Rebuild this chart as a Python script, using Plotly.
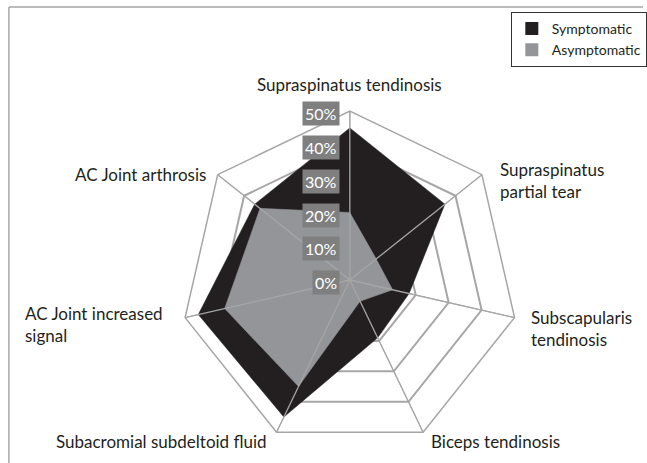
import math
import plotly.graph_objects as go

categories = ["Supraspinatus tendinosis", "Supraspinatus partial tear", "Subscapularis tendinosis",
              "Biceps tendinosis", "Subacromial subdeltoid fluid", "AC Joint increased signal",
              "AC Joint arthrosis"]
category_labels = ["Supraspinatus tendinosis", "Supraspinatus<br>partial tear", "Subscapularis<br>tendinosis",
                   "Biceps tendinosis", "Subacromial subdeltoid fluid", "AC Joint increased<br>signal",
                   "AC Joint arthrosis"]
symptomatic = [45, 36, 18, 19, 45, 46, 36]
asymptomatic = [20, 10, 13, 7, 35, 38, 34]
tick_values = [0, 10, 20, 30, 40, 50]
tick_labels = ["0%", "10%", "20%", "30%", "40%", "50%"]
r_max = 50

W, H = 647, 463
cx_px, cy_px, R_px = 352, 280, 170
dom_x = [(cx_px - R_px) / W, (cx_px + R_px) / W]
dom_y = [(H - cy_px - R_px) / H, (H - cy_px + R_px) / H]

FONT = "Lato, 'Open Sans', sans-serif"
GRID = "#a6a6a6"
BLACK = "#231f20"
GREY = "#939598"

# label placement style around each outer vertex: xanchor, yanchor, xshift, yshift, align
label_style = [
    ("center", "bottom", 0, 13, "center"),
    ("left", "middle", 16, -6, "left"),
    ("left", "middle", 14, -11, "left"),
    ("left", "middle", 6, -8, "left"),
    ("right", "middle", -8, -8, "right"),
    ("right", "middle", -20, -7, "left"),
    ("right", "middle", -10, 0, "right"),
]

fig = go.Figure()
fig.add_trace(go.Scatterpolar(
    r=symptomatic + [symptomatic[0]], theta=categories + [categories[0]],
    name="Symptomatic", mode="lines", fill="toself", showlegend=False,
    fillcolor=BLACK, line=dict(color=BLACK, width=0.5)))
fig.add_trace(go.Scatterpolar(
    r=asymptomatic + [asymptomatic[0]], theta=categories + [categories[0]],
    name="Asymptomatic", mode="lines", fill="toself", showlegend=False,
    fillcolor=GREY, line=dict(color=GREY, width=0.5)))

# spokes drawn over the fills
sr, st = [], []
for c in categories:
    sr += [0, r_max, None]
    st += [c, c, c]
fig.add_trace(go.Scatterpolar(r=sr, theta=st, mode="lines", showlegend=False,
                              hoverinfo="skip", line=dict(color=GRID, width=1.3)))

# legend entries (square swatches)
for name, col in [("Symptomatic", BLACK), ("Asymptomatic", GREY)]:
    fig.add_trace(go.Scatterpolar(r=[None], theta=[categories[0]], mode="markers", name=name,
                                  marker=dict(symbol="square", size=13, color=col)))

cy_paper = (dom_y[0] + dom_y[1]) / 2
cx_paper = (dom_x[0] + dom_x[1]) / 2

# radial tick labels with grey boxes
for v, t in zip(tick_values, tick_labels):
    fig.add_annotation(
        x=cx_paper - 10 / W, y=cy_paper + (v / r_max) * (R_px / H) - 3 / H,
        xref="paper", yref="paper", xanchor="right", yanchor="middle",
        text=t, showarrow=False, bgcolor="#7f7f7f",
        font=dict(family=FONT, size=16, color="white"), borderpad=2)

# category labels placed around the outer polygon vertices
n = len(categories)
for i, (lab, st_) in enumerate(zip(category_labels, label_style)):
    ang = math.radians(90 - i * 360 / n)
    vx = cx_paper + (R_px * math.cos(ang)) / W
    vy = cy_paper + (R_px * math.sin(ang)) / H
    xa, ya, xs, ys, al = st_
    fig.add_annotation(x=vx, y=vy, xref="paper", yref="paper", text=lab, showarrow=False,
                       xanchor=xa, yanchor=ya, xshift=xs, yshift=ys, align=al,
                       font=dict(family=FONT, size=17, color=BLACK))

fig.update_layout(
    width=W, height=H, margin=dict(l=0, r=0, t=0, b=0),
    paper_bgcolor="white", plot_bgcolor="white",
    font=dict(family=FONT, size=16, color=BLACK),
    polar=dict(
        domain=dict(x=dom_x, y=dom_y),
        gridshape="linear", bgcolor="white",
        radialaxis=dict(range=[0, r_max], tickvals=tick_values, showticklabels=False,
                        ticks="", showline=False, gridcolor=GRID, gridwidth=1.5),
        angularaxis=dict(rotation=90, direction="clockwise", ticks="", showticklabels=False,
                         showline=True, linecolor=GRID, linewidth=1.5,
                         gridcolor=GRID, gridwidth=1.3),
    ),
    legend=dict(x=514 / W, y=1 - 12 / H, xanchor="left", yanchor="top",
                bordercolor="#333333", borderwidth=1, bgcolor="white",
                font=dict(family=FONT, size=14, color=BLACK),
                itemwidth=30, tracegroupgap=0),
    shapes=[
        dict(type="line", xref="paper", yref="paper", x0=9 / W, x1=1, y0=1 - 7 / H, y1=1 - 7 / H,
             line=dict(color=GRID, width=1.5)),
        dict(type="line", xref="paper", yref="paper", x0=9 / W, x1=9 / W, y0=0, y1=1 - 7 / H,
             line=dict(color=GRID, width=1.5)),
    ],
    showlegend=True,
)

fig.write_html("out.html", config={"displayModeBar": False},
               post_script="document.body.style.margin='0';")
